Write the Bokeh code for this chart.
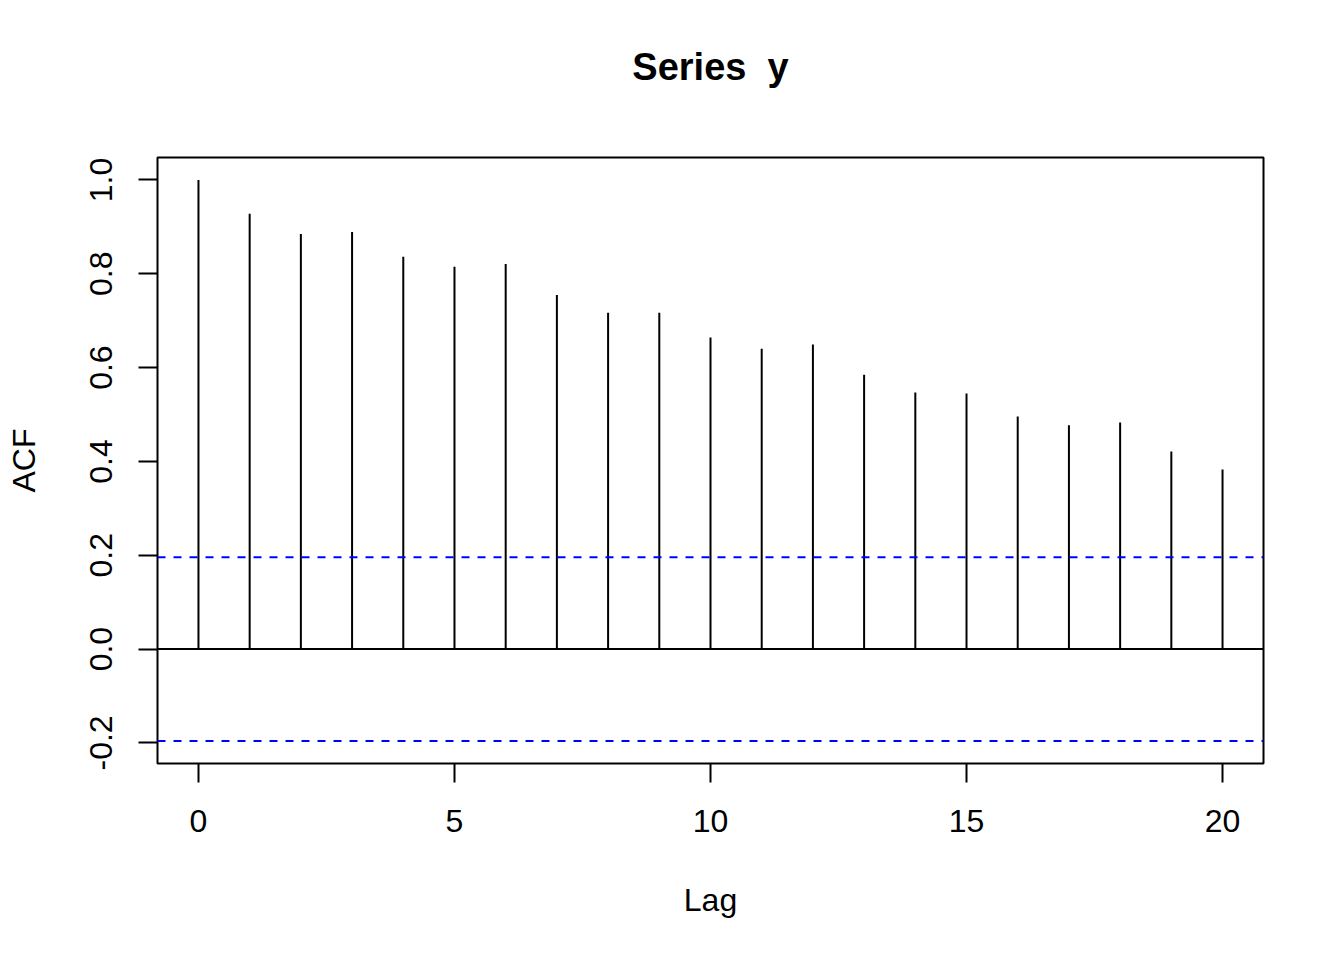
from bokeh.plotting import figure
from bokeh.models import Range1d, FixedTicker, Span, PrintfTickFormatter, Title
from bokeh.embed import file_html
from bokeh.resources import INLINE

lags = list(range(21))
acf = [1.0, 0.928, 0.885, 0.889, 0.836, 0.815, 0.821, 0.755, 0.717, 0.717,
       0.664, 0.640, 0.649, 0.585, 0.547, 0.545, 0.496, 0.477, 0.483, 0.421, 0.383]
ci = 0.196
x_ticks = [0, 5, 10, 15, 20]
y_ticks = [-0.2, 0.0, 0.2, 0.4, 0.6, 0.8, 1.0]
title_text = "Series \u00a0y"

FONT = "Liberation Sans"

p = figure(frame_width=1106, frame_height=606,
           x_range=Range1d(-0.8, 20.8), y_range=Range1d(-0.2438, 1.0478),
           output_backend="svg", toolbar_location=None,
           min_border_left=157, min_border_right=65,
           min_border_top=157, min_border_bottom=181,
           title=title_text)
p.background_fill_color = "white"
p.border_fill_color = "white"
p.outline_line_color = "black"
p.outline_line_width = 2
p.xgrid.visible = False
p.ygrid.visible = False

p.title.align = "center"
p.title.vertical_align = "bottom"
p.title.text_font = FONT
p.title.text_font_size = "38px"
p.title.text_font_style = "bold"
p.title.text_color = "black"
p.title.standoff = 0

# empty spacer between the frame and the title
p.add_layout(Title(text=" ", text_font_size="2px", standoff=66,
                   text_color="white"), "above")

p.segment(x0=lags, y0=[0] * len(lags), x1=lags, y1=acf, line_color="black", line_width=2)
p.add_layout(Span(location=0, dimension="width", line_color="black", line_width=2))
for c in (ci, -ci):
    p.add_layout(Span(location=c, dimension="width", line_color="#0000FF",
                      line_width=2, line_dash="8 8"))

for ax in (p.xaxis[0], p.yaxis[0]):
    ax.axis_line_color = None
    ax.major_tick_out = 19
    ax.major_tick_in = 0
    ax.major_tick_line_width = 2
    ax.major_tick_line_color = "black"
    ax.minor_tick_line_color = None
    ax.major_label_text_font = FONT
    ax.major_label_text_font_size = "32px"
    ax.major_label_text_color = "black"
    ax.axis_label_text_font = FONT
    ax.axis_label_text_font_size = "32px"
    ax.axis_label_text_font_style = "normal"
    ax.axis_label_text_color = "black"

p.xaxis.ticker = FixedTicker(ticks=x_ticks)
p.yaxis.ticker = FixedTicker(ticks=y_ticks)
p.yaxis.formatter = PrintfTickFormatter(format="%.1f")
p.yaxis.major_label_orientation = "parallel"
p.xaxis.axis_label = "Lag"
p.yaxis.axis_label = "ACF"
p.xaxis.major_label_standoff = 27
p.yaxis.major_label_standoff = 26
p.xaxis.axis_label_standoff = 47
p.yaxis.axis_label_standoff = 46

open("out.html", "w").write(file_html(p, INLINE))
